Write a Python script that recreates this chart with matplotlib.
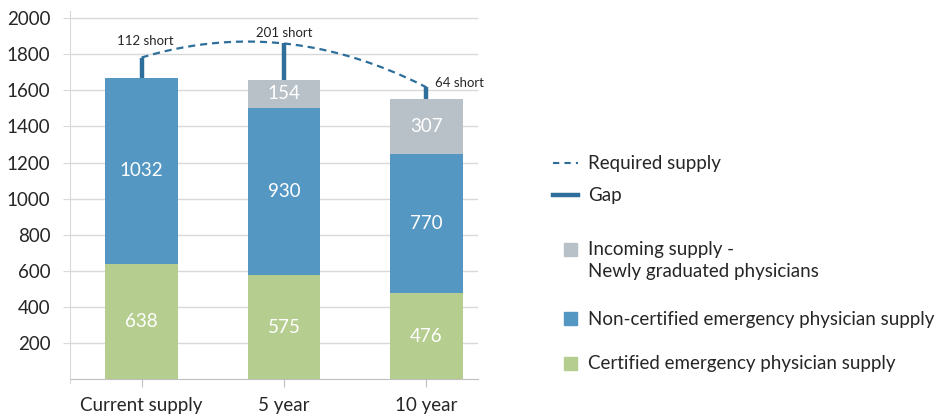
import numpy as np
import matplotlib
matplotlib.use("Agg")
import matplotlib.pyplot as plt
from matplotlib.lines import Line2D
from matplotlib.patches import Rectangle

plt.rcParams['font.family'] = ['Lato', 'DejaVu Sans']

categories = ["Current supply", "5 year", "10 year"]
certified = [638, 575, 476]
non_certified = [1032, 930, 770]
incoming = [0, 154, 307]
gap = [112, 201, 64]
gap_labels = ["112 short", "201 short", "64 short"]
y_ticks = [200, 400, 600, 800, 1000, 1200, 1400, 1600, 1800, 2000]

GREEN = "#B5CD8F"
BLUE = "#5497C2"
GREY = "#B9C1C8"
DARK = "#2D6E9B"
GRID = "#D9D9D9"
AXIS = "#BFBFBF"
TEXT = "#262626"

W, H = 942, 418
fig = plt.figure(figsize=(W / 100, H / 100), dpi=100)
ax = fig.add_axes([70 / W, (418 - 383) / H, (478 - 70) / W, (383 - 11) / H])
ax.spines['bottom'].set_position(('data', 0))

x = np.arange(len(categories))
bw = 0.512
cert = np.array(certified)
nonc = np.array(non_certified)
inc = np.array(incoming)
supply = cert + nonc + inc
required = supply + np.array(gap)

ax.bar(x, cert, bw, color=GREEN, zorder=3)
ax.bar(x, nonc, bw, bottom=cert, color=BLUE, zorder=3)
ax.bar(x, inc, bw, bottom=cert + nonc, color=GREY, zorder=3)

lab_fs = 13.5
for i in range(len(x)):
    ax.text(x[i], cert[i] / 2, str(cert[i]), ha='center', va='center',
            color='white', fontsize=lab_fs, zorder=4)
    ax.text(x[i], cert[i] + nonc[i] / 2, str(nonc[i]), ha='center', va='center',
            color='white', fontsize=lab_fs, zorder=4)
    if inc[i] > 0:
        ax.text(x[i], cert[i] + nonc[i] + inc[i] / 2, str(inc[i]), ha='center',
                va='center', color='white', fontsize=lab_fs, zorder=4)

# gap bars from supply top up to required level
ax.vlines(x, supply, required, color=DARK, lw=3.2, zorder=4)

# smooth dashed required-supply curve through the three required points
coef = np.polyfit(x, required, 2)
xs = np.linspace(x[0], x[-1], 200)
ax.plot(xs, np.polyval(coef, xs), ls=(0, (3.2, 2.2)), color=DARK, lw=1.6, zorder=4)

# gap annotations
offsets = [((4, 11), 'center', 'bottom'), ((0, 4), 'center', 'bottom'), ((9, 4), 'left', 'center')]
for i, (off, ha, va) in enumerate(offsets):
    ax.annotate(gap_labels[i], (x[i], required[i]), xytext=off, textcoords='offset pixels',
                ha=ha, va=va, fontsize=9.5, color=TEXT, zorder=5)

ax.set_xlim(-0.502, 2.362)
ax.set_ylim(-22, 2040)
ax.set_yticks(y_ticks)
ax.set_yticklabels([str(v) for v in y_ticks])
ax.set_xticks(x)
ax.set_xticklabels(categories)
ax.grid(axis='y', color=GRID, lw=1, zorder=0)
ax.tick_params(axis='y', length=5, color=GRID, pad=9, labelsize=13.5, labelcolor=TEXT)
ax.tick_params(axis='x', length=6, color=AXIS, pad=7, labelsize=13.5, labelcolor=TEXT)
for s in ['top', 'right']:
    ax.spines[s].set_visible(False)
ax.spines['left'].set_color(GRID)
ax.spines['bottom'].set_color(AXIS)
ax.spines['bottom'].set_zorder(2)

# legend drawn on an overlay in pixel coordinates
lg = fig.add_axes([0, 0, 1, 1], facecolor='none')
lg.set_xlim(0, W)
lg.set_ylim(H, 0)
lg.axis('off')
tx = 588
fs = 13.5
lg.add_line(Line2D([553, 578], [163, 163], color=DARK, lw=1.5, ls=(0, (3, 2.5))))
lg.text(tx, 163, "Required supply", va='center', fontsize=fs, color=TEXT)
lg.add_line(Line2D([553, 578], [195, 195], color=DARK, lw=3.2))
lg.text(tx, 196, "Gap", va='center', fontsize=fs, color=TEXT)
lg.add_patch(Rectangle((564, 243), 13, 13, color=GREY))
lg.text(tx, 249, "Incoming supply -", va='center', fontsize=fs, color=TEXT)
lg.text(tx, 272, "Newly graduated physicians", va='center', fontsize=fs, color=TEXT)
lg.add_patch(Rectangle((564, 312), 13, 13, color=BLUE))
lg.text(tx, 319, "Non-certified emergency physician supply", va='center', fontsize=fs, color=TEXT)
lg.add_patch(Rectangle((564, 357), 13, 13, color=GREEN))
lg.text(tx, 364, "Certified emergency physician supply", va='center', fontsize=fs, color=TEXT)

fig.savefig("out.png", dpi=100)
